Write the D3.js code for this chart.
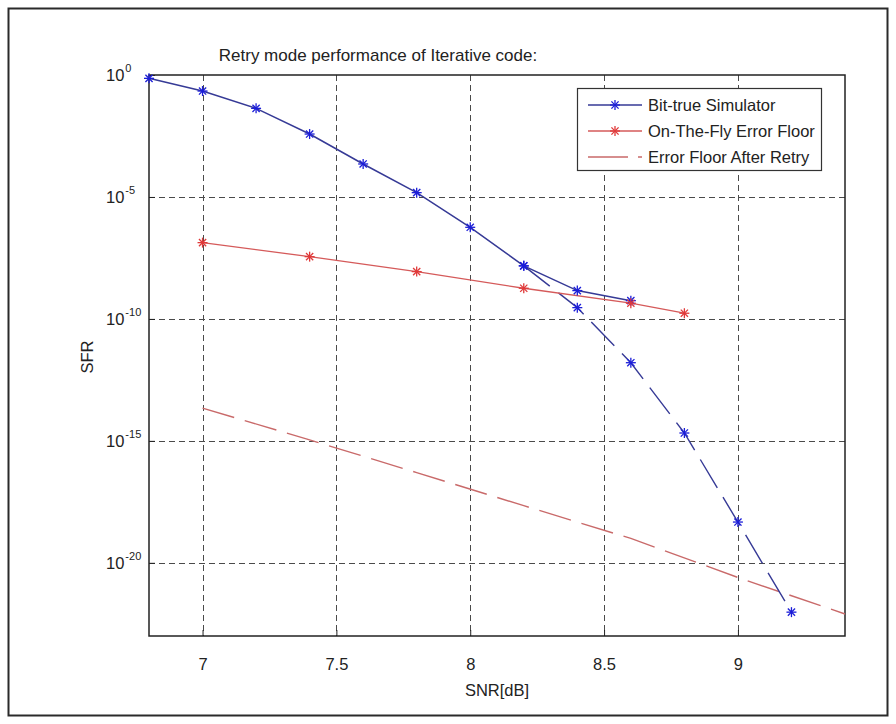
<!DOCTYPE html>
<html>
<head>
<meta charset="utf-8">
<script src="https://cdn.jsdelivr.net/npm/d3@7"></script>
<style>
  html, body { margin: 0; padding: 0; background: #fff; }
  svg { display: block; font-family: "Liberation Sans", Arial, Helvetica, sans-serif; }
</style>
</head>
<body>
<svg id="chart" width="896" height="724"></svg>
<script>
// SNR [dB] and SFR values for each curve
const snrSim = [6.8, 7.0, 7.2, 7.4, 7.6, 7.8, 8.0, 8.2, 8.4, 8.6];
const sfrSim = [0.73, 0.22, 4.3e-2, 3.8e-3, 2.25e-4, 1.5e-5, 5.7e-7, 1.5e-8, 1.45e-9, 5.6e-10];

const snrSimRetry = [8.2, 8.4, 8.6, 8.8, 9.0, 9.2];
const sfrSimRetry = [1.5e-8, 2.9e-10, 1.6e-12, 2.1e-15, 4.7e-19, 9.5e-23];

const snrOtf = [7.0, 7.4, 7.8, 8.2, 8.6, 8.8];
const sfrOtf = [1.34e-7, 3.57e-8, 8.7e-9, 1.81e-9, 4.4e-10, 1.71e-10];

const snrFloorRetry = [7.0, 7.4, 7.8, 8.2, 8.6, 9.0, 9.4];
const sfrFloorRetry = [2.2e-14, 1.1e-15, 5e-17, 2.2e-18, 1e-19, 2.5e-21, 8e-23];

const xTicks = [7, 7.5, 8, 8.5, 9];
const yTickExponents = [0, -5, -10, -15, -20];

const legendLabels = ["Bit-true Simulator", "On-The-Fly Error Floor", "Error Floor After Retry"];
const titleText = "Retry mode performance of Iterative code:";

// layout
const plot = { left: 149, right: 845, top: 75, bottom: 636 };
const blueLine = "#363a96", blueMark = "#1c1ed8";
const redLine = "#d55a5a", redMark = "#e03a3a", redDash = "#c96a6a";
const dashPattern = "33,11";

const svg = d3.select("#chart");

// outer frame
svg.append("rect")
  .attr("x", 8.5).attr("y", 8.5).attr("width", 879).attr("height", 707)
  .attr("fill", "#fff").attr("stroke", "#2a2a2a").attr("stroke-width", 2);

const x = d3.scaleLinear().domain([6.8, 9.4]).range([plot.left, plot.right]);
const y = d3.scaleLog().domain([1e-23, 1]).range([plot.bottom, plot.top]);

// grid
const grid = svg.append("g").attr("stroke", "#4a4a4a").attr("stroke-width", 1)
  .attr("stroke-dasharray", "6,4").attr("fill", "none");
grid.selectAll("line.gx").data(xTicks).join("line").attr("class", "gx")
  .attr("x1", d => Math.round(x(d)) + 0.5).attr("x2", d => Math.round(x(d)) + 0.5)
  .attr("y1", plot.top).attr("y2", plot.bottom);
grid.selectAll("line.gy").data(yTickExponents.filter(e => e !== 0)).join("line").attr("class", "gy")
  .attr("y1", d => Math.round(y(Math.pow(10, d))) + 0.5).attr("y2", d => Math.round(y(Math.pow(10, d))) + 0.5)
  .attr("x1", plot.left).attr("x2", plot.right);

// axes
const xAxis = d3.axisBottom(x).tickValues(xTicks).tickSizeInner(-6).tickSizeOuter(0)
  .tickPadding(22).tickFormat(d3.format("~g"));
const gx = svg.append("g").attr("transform", `translate(0,${plot.bottom})`).call(xAxis);
gx.select(".domain").remove();
gx.selectAll(".tick line").attr("stroke", "#222");
gx.selectAll("text").attr("font-size", 16.5).attr("fill", "#222")
  .attr("font-family", "'Liberation Sans', Arial, sans-serif");

const yAxis = d3.axisLeft(y).tickValues(yTickExponents.map(e => Math.pow(10, e)))
  .tickSizeInner(-6).tickSizeOuter(0).tickFormat("");
const gy = svg.append("g").attr("transform", `translate(${plot.left},0)`).call(yAxis);
gy.select(".domain").remove();
gy.selectAll(".tick line").attr("stroke", "#222");

// y tick labels with superscript exponents
const ylab = svg.append("g").attr("fill", "#222");
yTickExponents.forEach(e => {
  const t = ylab.append("text").attr("x", 106).attr("y", y(Math.pow(10, e)) + 6)
    .attr("font-size", 16.5);
  t.append("tspan").text("10");
  t.append("tspan").attr("dy", -9).attr("dx", 1).attr("font-size", 11).text(String(e));
});

// axes box
svg.append("rect")
  .attr("x", plot.left).attr("y", plot.top)
  .attr("width", plot.right - plot.left).attr("height", plot.bottom - plot.top)
  .attr("fill", "none").attr("stroke", "#222").attr("stroke-width", 1.5);

// axis labels and title
svg.append("text").attr("x", (plot.left + plot.right) / 2).attr("y", 696)
  .attr("text-anchor", "middle").attr("font-size", 16.5).attr("fill", "#222").text("SNR[dB]");
svg.append("text").attr("transform", "translate(93,357) rotate(-90)")
  .attr("text-anchor", "middle").attr("font-size", 16.5).attr("fill", "#222").text("SFR");
svg.append("text").attr("x", 378).attr("y", 61)
  .attr("text-anchor", "middle").attr("font-size", 17).attr("fill", "#222").text(titleText);

// curves
const line = (xs) => d3.line().x((d, i) => x(xs[i])).y(d => y(d));

function asterisk(g, cx, cy, color) {
  const r = 5, rd = 3.6;
  const a = g.append("g").attr("stroke", color).attr("stroke-width", 1.3);
  a.append("line").attr("x1", cx - r).attr("x2", cx + r).attr("y1", cy).attr("y2", cy);
  a.append("line").attr("x1", cx).attr("x2", cx).attr("y1", cy - r).attr("y2", cy + r);
  a.append("line").attr("x1", cx - rd).attr("x2", cx + rd).attr("y1", cy - rd).attr("y2", cy + rd);
  a.append("line").attr("x1", cx - rd).attr("x2", cx + rd).attr("y1", cy + rd).attr("y2", cy - rd);
}

const curves = svg.append("g").attr("fill", "none");

// error floor after retry (red dashed, no markers)
curves.append("path").datum(sfrFloorRetry).attr("d", line(snrFloorRetry))
  .attr("stroke", redDash).attr("stroke-width", 1.4).attr("stroke-dasharray", dashPattern);

// simulator extension with retry (blue dashed)
curves.append("path").datum(sfrSimRetry).attr("d", line(snrSimRetry))
  .attr("stroke", blueLine).attr("stroke-width", 1.4).attr("stroke-dasharray", dashPattern);

// on-the-fly error floor
curves.append("path").datum(sfrOtf).attr("d", line(snrOtf))
  .attr("stroke", redLine).attr("stroke-width", 1.3);

// bit-true simulator
curves.append("path").datum(sfrSim).attr("d", line(snrSim))
  .attr("stroke", blueLine).attr("stroke-width", 1.5);

const marks = svg.append("g");
sfrSimRetry.forEach((v, i) => asterisk(marks, x(snrSimRetry[i]), y(v), blueMark));
sfrSim.forEach((v, i) => asterisk(marks, x(snrSim[i]), y(v), blueMark));
sfrOtf.forEach((v, i) => asterisk(marks, x(snrOtf[i]), y(v), redMark));

// legend
const lg = svg.append("g");
lg.append("rect").attr("x", 577.5).attr("y", 88.5).attr("width", 244).attr("height", 82)
  .attr("fill", "#fff").attr("stroke", "#333").attr("stroke-width", 1.2);
const rows = [
  { label: legendLabels[0], color: blueLine, mark: blueMark, dash: null },
  { label: legendLabels[1], color: redLine, mark: redMark, dash: null },
  { label: legendLabels[2], color: redDash, mark: null, dash: "40,10" }
];
rows.forEach((r, i) => {
  const cy = 105 + i * 26;
  lg.append("line").attr("x1", 588).attr("x2", 642).attr("y1", cy).attr("y2", cy)
    .attr("stroke", r.color).attr("stroke-width", 1.3)
    .attr("stroke-dasharray", r.dash);
  if (r.mark) asterisk(lg, 615, cy, r.mark);
  lg.append("text").attr("x", 648).attr("y", cy + 6).attr("font-size", 16.5)
    .attr("fill", "#222").text(r.label);
});
</script>
</body>
</html>
